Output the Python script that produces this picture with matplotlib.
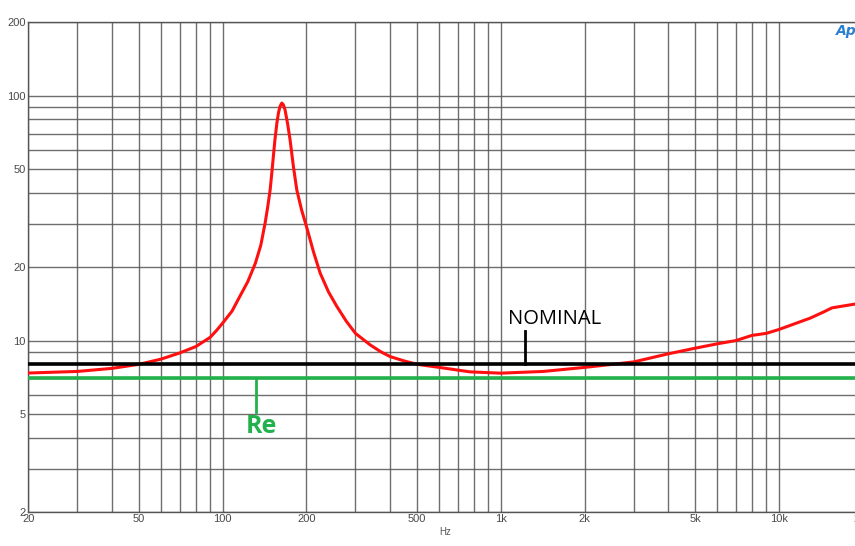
import matplotlib.pyplot as plt
from matplotlib.ticker import FixedLocator, NullLocator

# impedance magnitude (ohm) vs frequency (Hz)
freq = [20, 30, 40, 50, 60, 70, 80, 90, 95, 100, 108, 115, 123, 131, 137, 142,
        145, 148, 150, 152, 154, 156.5, 158.5, 160.5, 163, 165, 167.5, 171,
        174.6, 179.5, 184.6, 192, 200, 212, 224, 240, 257, 278, 300, 339, 370,
        400, 450, 500, 600, 775, 1000, 1420, 2000, 2700, 3000, 4000, 5000,
        6000, 7000, 8000, 9000, 10000, 12950, 14500, 15500, 18800, 20000]
imp = [7.37, 7.48, 7.7, 8.0, 8.4, 8.9, 9.45, 10.3, 11.0, 11.8, 13.2, 15.1, 17.4,
       20.7, 24.5, 30.2, 35.0, 41.2, 48.0, 56.4, 66.0, 77.2, 84.8, 90.2, 93.3,
       92.0, 87.5, 77.0, 66.0, 51.3, 41.2, 34.2, 29.2, 23.0, 18.85, 15.8, 13.8,
       12.0, 10.7, 9.6, 9.0, 8.6, 8.25, 8.0, 7.77, 7.45, 7.36, 7.48, 7.77, 8.07,
       8.18, 8.83, 9.31, 9.7, 10.0, 10.5, 10.7, 11.1, 12.35, 13.1, 13.6, 14.1,
       14.2]

nominal = 8.0
re_dc = 7.0

x_grid = [20, 30, 40, 50, 60, 70, 80, 90, 100, 200, 300, 400, 500, 600, 700,
          800, 900, 1000, 2000, 3000, 4000, 5000, 6000, 7000, 8000, 9000,
          10000, 20000]
x_labels = {20: '20', 50: '50', 100: '100', 200: '200', 500: '500',
            1000: '1k', 2000: '2k', 5000: '5k', 10000: '10k', 20000: '20k'}
y_grid = [2, 3, 4, 5, 6, 7, 8, 9, 10, 20, 30, 40, 50, 60, 70, 80, 90, 100, 200]
y_labels = {2: '2', 5: '5', 10: '10', 20: '20', 50: '50', 100: '100', 200: '200'}

fig = plt.figure(figsize=(8.55, 5.46), dpi=100)
ax = fig.add_axes([0.0332, 0.0628, 0.9758, 0.8969])
ax.set_xscale('log')
ax.set_yscale('log')
ax.set_xlim(20, 20000)
ax.set_ylim(2, 200)

ax.xaxis.set_major_locator(FixedLocator(x_grid))
ax.xaxis.set_minor_locator(NullLocator())
ax.yaxis.set_major_locator(FixedLocator(y_grid))
ax.yaxis.set_minor_locator(NullLocator())
ax.set_xticklabels([x_labels.get(v, '') for v in x_grid])
ax.set_yticklabels([y_labels.get(v, '') for v in y_grid])
ax.tick_params(length=0, pad=2, labelsize=8, labelcolor='#4a4a4a')
for lab in ax.get_xticklabels() + ax.get_yticklabels():
    lab.set_fontfamily('Liberation Sans')
ax.grid(True, color='#555555', lw=1.0, alpha=0.85)
for sp in ax.spines.values():
    sp.set_color('#555555')
    sp.set_linewidth(1.0)

ax.set_xlabel('Hz', fontsize=7, color='#555555', labelpad=2,
              fontfamily='Liberation Sans')

ax.plot(freq, imp, color='#ff1010', lw=2.2, zorder=3)
ax.axhline(nominal, color='black', lw=2.6, zorder=4)
ax.axhline(re_dc, color='#22b14c', lw=2.6, zorder=4)

# annotation markers
ax.plot([1223, 1223], [nominal, 10.96], color='black', lw=2, zorder=4)
ax.text(1560, 11.2, 'NOMINAL', fontsize=14.5, color='black',
        fontfamily='Open Sans', ha='center', va='bottom')
ax.plot([131.7, 131.7], [re_dc, 5.12], color='#22b14c', lw=2, zorder=4)
ax.text(138, 5.0, 'Re', fontsize=18, color='#22b14c', fontweight='bold',
        fontfamily='Open Sans', ha='center', va='top')

fig.text(0.978, 0.943, 'Ap', fontsize=10, color='#2a7fd0', style='italic',
         fontweight='bold', ha='left', va='center')

fig.savefig('out.png', dpi=100)
